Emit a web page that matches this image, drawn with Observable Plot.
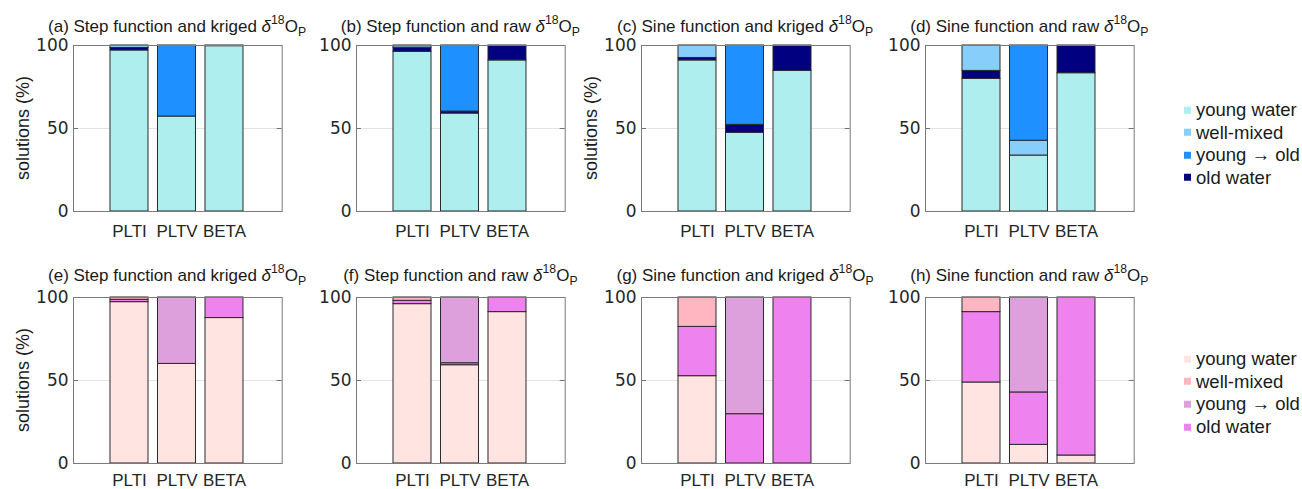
<!DOCTYPE html>
<html><head><meta charset="utf-8">
<script src="https://cdn.jsdelivr.net/npm/d3@7"></script>
<script src="https://cdn.jsdelivr.net/npm/@observablehq/plot@0.6"></script>
<style>
body{margin:0;background:#fff;}
#fig{position:relative;width:1302px;height:489px;overflow:hidden;font-family:"Liberation Sans",Arial,sans-serif;color:#1a1a1a;background:#fff;}
.panel{position:absolute;}
.title{position:absolute;white-space:nowrap;font-size:17px;line-height:1;transform:translateX(-50%);}
.title sup,.title sub{font-size:0.72em;position:relative;vertical-align:baseline;line-height:0;}
.title sup{top:-0.6em;}
.title sub{top:0.35em;}
.ylab{position:absolute;white-space:nowrap;font-size:18px;line-height:1;transform:translate(-50%,-50%) rotate(-90deg);}
.leg{position:absolute;white-space:nowrap;font-size:18.5px;line-height:1;transform:translateY(-50%);display:flex;align-items:center;}
.sw{width:7px;height:7px;margin-right:5px;display:inline-block;}
.ytick text{font-family:"DejaVu Sans",sans-serif;}
</style></head><body><div id="fig"></div><script>
// ---- data ----
const categories = ["PLTI", "PLTV", "BETA"];
const classes = ["young water", "well-mixed", "young \u2192 old", "old water"]; // legend order
const stackOrder = ["young water", "old water", "well-mixed", "young \u2192 old"]; // bottom to top
const blueColors = ["#AFEEEE", "#87CEFA", "#1E90FF", "#000080"];
const pinkColors = ["#FFE4E1", "#FFB6C1", "#DDA0DD", "#EE82EE"];
const titles = ["(a) Step function and kriged", "(b) Step function and raw", "(c) Sine function and kriged", "(d) Sine function and raw",
                "(e) Step function and kriged", "(f) Step function and raw", "(g) Sine function and kriged", "(h) Sine function and raw"];
const yLabel = "solutions (%)";
const yTicks = [0, 50, 100];
// values per panel (a..h), each [PLTI, PLTV, BETA], in %
const youngWater = [[97, 57.2, 99.6], [96.2, 59, 91], [91, 47.4, 84.7], [79.9, 33.7, 83.3],
                    [97.2, 60, 87.6], [96, 59.2, 91.2], [52.6, 0, 0], [48.8, 11.2, 4.8]];
const wellMixed  = [[1.5, 0, 0], [1.3, 0, 0], [7.5, 0, 0], [15.3, 8.9, 0],
                    [1.4, 0, 0], [2, 0, 0], [17.7, 0, 0], [8.8, 0, 0]];
const youngToOld = [[0, 42.8, 0], [0, 39.8, 0], [0, 47.8, 0], [0, 57.4, 0],
                    [0, 40, 0], [0, 39.6, 0], [0, 70.3, 0], [0, 57.2, 0]];
const oldWater   = [[1.5, 0, 0.4], [2.5, 1.2, 9], [1.5, 4.8, 15.3], [4.8, 0, 16.7],
                    [1.4, 0, 12.4], [2, 1.2, 8.8], [29.7, 29.7, 100], [42.4, 31.6, 95.2]];

// ---- layout ----
const panelLefts = [72.7, 356, 640.7, 925];
const rowTops = [45, 296.7];
const frameW = 208.7, frameH = 166;
const mL = 45, mR = 10, mT = 10, mB = 40;
const titleBaselines = [32, 281];
const xLabelPad = [13, 10];
const ylabShow = [true, false, true, false, true, false, false, false];
const legendLines = [[110, 132.7, 155, 177.7], [359.3, 381.7, 404.3, 427]];

const fig = document.getElementById("fig");
const series = {"young water": youngWater, "well-mixed": wellMixed, "young \u2192 old": youngToOld, "old water": oldWater};

for (let p = 0; p < 8; p++) {
  const row = p < 4 ? 0 : 1, col = p % 4;
  const colors = row === 0 ? blueColors : pinkColors;
  const data = [];
  categories.forEach((c, ci) => {
    stackOrder.forEach(cls => {
      const v = series[cls][p][ci];
      if (v > 0) data.push({cat: c, cls, value: v});
    });
  });
  const chart = Plot.plot({
    width: mL + frameW + mR,
    height: mT + frameH + mB,
    marginLeft: mL, marginRight: mR, marginTop: mT, marginBottom: mB,
    style: {background: "transparent", overflow: "visible", fontFamily: "Liberation Sans, Arial, sans-serif", maxWidth: "none"},
    x: {type: "band", domain: categories, range: [mL + 32.25, mL + 174.75], paddingInner: 0.2, paddingOuter: 0.1, round: false, label: null},
    y: {domain: [0, 100], label: null},
    color: {domain: classes, range: colors},
    marks: [
      Plot.ruleY([50], {stroke: "#e3e3e3", strokeWidth: 1}),
      Plot.ruleY(yTicks, {stroke: "#6f6f6f", insetRight: frameW - 5}),
      Plot.ruleY(yTicks, {stroke: "#6f6f6f", insetLeft: frameW - 5}),
      Plot.ruleX(categories, {x: d => d, stroke: "#6f6f6f", insetBottom: frameH - 5}),
      Plot.axisY({ticks: yTicks, tickSize: 0, tickPadding: 5, fontSize: 17, label: null, fill: "#262626", className: "ytick"}),
      Plot.axisX({tickSize: 0, tickPadding: xLabelPad[row], fontSize: 17, label: null, fill: "#262626"}),
      Plot.barY(data, Plot.stackY({x: "cat", y: "value", fill: "cls", stroke: "#2a2a2a", strokeWidth: 1})),
      Plot.frame({stroke: "#7a7a7a"})
    ]
  });
  const wrap = document.createElement("div");
  wrap.className = "panel";
  wrap.style.left = (panelLefts[col] - mL) + "px";
  wrap.style.top = (rowTops[row] - mT) + "px";
  wrap.appendChild(chart);
  fig.appendChild(wrap);

  const t = document.createElement("div");
  t.className = "title";
  t.innerHTML = titles[p] + " <i>\u03b4</i><sup>18</sup>O<sub>P</sub>";
  t.style.left = (panelLefts[col] + frameW / 2) + "px";
  t.style.top = (titleBaselines[row] - 0.8465 * 17) + "px";
  fig.appendChild(t);

  if (ylabShow[p]) {
    const yl = document.createElement("div");
    yl.className = "ylab";
    yl.textContent = yLabel;
    yl.style.left = (panelLefts[col] - 50) + "px";
    yl.style.top = (rowTops[row] + frameH / 2) + "px";
    fig.appendChild(yl);
  }
}

[blueColors, pinkColors].forEach((cols, r) => {
  classes.forEach((cls, i) => {
    const d = document.createElement("div");
    d.className = "leg";
    d.style.left = "1184px";
    d.style.top = legendLines[r][i] + "px";
    d.innerHTML = `<span class="sw" style="background:${cols[i]}"></span><span>${cls}</span>`;
    fig.appendChild(d);
  });
});
</script></body></html>
